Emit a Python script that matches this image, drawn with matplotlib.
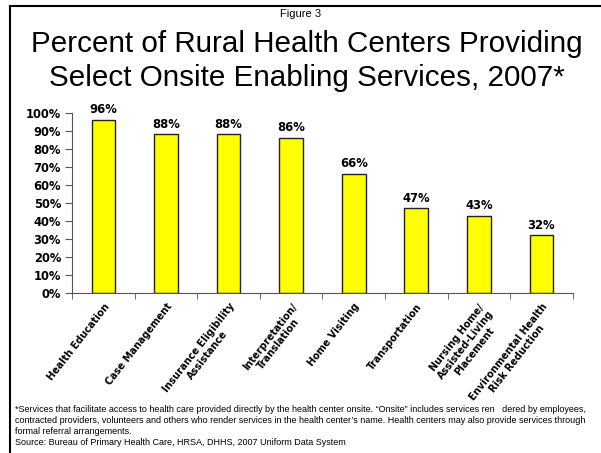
import matplotlib.pyplot as plt
from matplotlib.lines import Line2D
from matplotlib.transforms import ScaledTranslation

# data
services = ["Health Education", "Case Management", "Insurance Eligibility\nAssistance",
            "Interpretation/\nTranslation", "Home Visiting", "Transportation",
            "Nursing Home/\nAssisted-Living\nPlacement", "Environmental Health\nRisk Reduction"]
pct = [96, 88, 88, 86, 66, 47, 43, 32]
yticks = list(range(0, 101, 10))

plt.rcParams['font.family'] = ['Liberation Sans', 'DejaVu Sans']
bold = dict(family="DejaVu Sans", fontweight="bold")

fig = plt.figure(figsize=(6.01, 4.53), dpi=100)
ax = fig.add_axes([0.12, 0.353, 0.833, 0.398])

x = list(range(len(pct)))
ax.bar(x, [p / 100 for p in pct], width=0.38, color="#FFFF00", edgecolor="#222222", linewidth=1.0)
for xi, p in zip(x, pct):
    ax.text(xi, p / 100 + 0.02, f"{p}%", ha="center", va="bottom", fontsize=8.4, **bold)

ax.set_xlim(-0.5, len(pct) - 0.5)
ax.set_ylim(0, 1.0)
ax.set_yticks([t / 100 for t in yticks])
ax.set_yticklabels([f"{t}%" for t in yticks], fontsize=8.3, **bold)
ax.set_xticks(x)
ax.set_xticklabels(services, rotation=52, ha="right", va="top", rotation_mode="anchor",
                   fontsize=7.0, multialignment="center", linespacing=1.15, **bold)
shift = ScaledTranslation(0.05, 0, fig.dpi_scale_trans)
for lab in ax.get_xticklabels():
    lab.set_transform(lab.get_transform() + shift)
ax.tick_params(axis="x", which="major", length=0, pad=6)
ax.set_xticks([i - 0.5 for i in range(len(pct) + 1)], minor=True)
ax.tick_params(axis="x", which="minor", length=4, direction="out", color="#555555")
ax.tick_params(axis="y", length=5, direction="out", color="#555555", pad=3)
for s in ["top", "right"]:
    ax.spines[s].set_visible(False)
for s in ["left", "bottom"]:
    ax.spines[s].set_color("#555555")

fig.text(0.5, 0.969, "Figure 3", ha="center", va="center", fontsize=8)
fig.text(0.51, 0.866, "Percent of Rural Health Centers Providing\nSelect Onsite Enabling Services, 2007*",
         ha="center", va="center", fontsize=21.3, linespacing=1.27)

note = ("*Services that facilitate access to health care provided directly by the health center onsite. \u201cOnsite\u201d includes services ren   dered by employees,\n"
        "contracted providers, volunteers and others who render services in the health center\u2019s name. Health centers may also provide services through\n"
        "formal referral arrangements.\n"
        "Source: Bureau of Primary Health Care, HRSA, DHHS, 2007 Uniform Data System")
fig.text(0.025, 0.107, note, ha="left", va="top", fontsize=6.5, linespacing=1.3)

# frame lines on left and top
fig.add_artist(Line2D([0.017, 0.017], [0, 0.987], color="black", lw=1.5))
fig.add_artist(Line2D([0.017, 1.0], [0.987, 0.987], color="black", lw=1.5))

fig.savefig("out.png", dpi=100)
